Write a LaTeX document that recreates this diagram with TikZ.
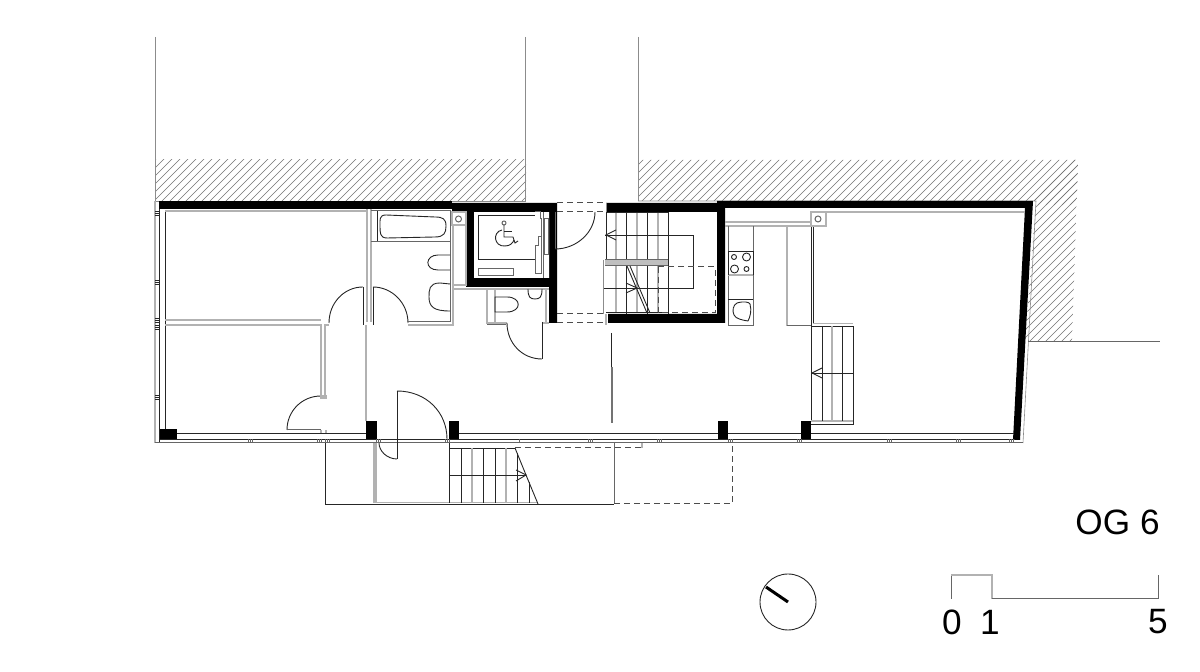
\documentclass[tikz,border=0pt]{standalone}
\usepackage{fontspec}
\setmainfont{Liberation Sans}
\begin{document}
\begin{tikzpicture}[x=0.5pt, y=-0.5pt, line join=miter,
  wall/.style = {fill=black, draw=none},
  dark/.style = {draw=black!85, line width=0.45pt},
  mid/.style = {draw=black!60, line width=0.5pt},
  pale/.style = {draw=black!30, line width=0.6pt},
  hair/.style = {draw=black!45, line width=0.3pt},
  cut/.style = {draw=black!70, line width=0.5pt, dash pattern=on 3pt off 2pt},
  hatchline/.style = {draw=black!55, line width=0.22pt},
  label/.style = {font=\fontsize{17.6}{18}\selectfont, inner sep=0pt}]
\useasboundingbox (0,0) rectangle (1200,672);

% neighbours and hatching
\begin{scope}
\clip (155,160) rectangle (526,201);
\foreach \h in {110,118,...,540} \draw[hatchline] (\h,205) -- (\h+50,155);
\end{scope}
\begin{scope}
\clip (638,160) -- (1078,160) -- (1072,342) -- (1025,342) -- (1036,201) -- (638,201) -- cycle;
\foreach \h in {590,598,...,1078} \draw[hatchline] (\h,205) -- (\h+50,155);
\foreach \h in {890,898,...,1078} \draw[hatchline] (\h,345) -- (\h+190,155);
\end{scope}
\draw[hair] (155,37) -- (155,201);
\draw[hair] (525.5,37) -- (525.5,201);
\draw[hair] (638,37) -- (638,201);
\draw[hair] (155,201) -- (525.5,201);
\draw[hair] (638,201) -- (1036,201) -- (1023,443);
\draw[mid] (1028,342) -- (1160,342);

% walls
\fill[wall] (159,201) rectangle (452,209);
\fill[wall] (452,203) -- (557,203) -- (557,323) -- (549,323) -- (549,287) -- (466,287) -- (466,212) -- (452,212) -- cycle;
\fill[white] (474,212) rectangle (549,278);
\fill[wall] (606,203) -- (717,203) -- (717,201) -- (1033,201) -- (1020,440) -- (1013,440) -- (1025,208) -- (725,208) -- (725,323) -- (608,323) -- (608,314) -- (717,314) -- (717,212) -- (606,212) -- cycle;
\fill[wall] (159,429) rectangle (177,439);
\fill[wall] (366,421) rectangle (377,439);
\fill[wall] (449,421) rectangle (459,439);
\fill[wall] (718,421) rectangle (728,439);
\fill[wall] (801,421) rectangle (811,439);

% facade
\draw[pale] (155,201) -- (155,443);
\draw[dark] (159,209) -- (159,443);
\draw[dark] (165,211) -- (165,429);
\draw[dark] (177,433) -- (366,433);
\draw[dark] (459,433) -- (718,433);
\draw[dark] (728,433) -- (801,433);
\draw[dark] (811,433) -- (1014,433);
\draw[dark] (159,439) -- (1015,439);
\draw[mid] (155,443) -- (1023,443);
\foreach \tx in {250,319,327,378,447,590,659,730,799,889,958,1011} {
  \draw[mid] (\tx-2,439) -- (\tx-2,443);
  \draw[mid] (\tx,439) -- (\tx,443);
  \draw[mid] (\tx+2,439) -- (\tx+2,443);
}
\draw[mid] (519,439) -- (519,443);
\foreach \ty in {213,282,320,327,397} {
  \draw[dark] (155,\ty-2) -- (159,\ty-2);
  \draw[dark] (155,\ty) -- (159,\ty);
  \draw[dark] (155,\ty+2) -- (159,\ty+2);
}

% rooms left
\draw[pale] (165,211) -- (367,211);
\draw[pale] (367,209) -- (367,322);
\draw[pale] (371,209) -- (371,322);
\draw[pale] (165,320) -- (321,320);
\draw[pale] (165,325) -- (321,325) -- (321,396);
\draw[pale] (329,325) -- (325,325) -- (325,396);
\draw[pale] (366,325) -- (366,421);
\draw[dark] (363,287) -- (363,325);
\draw[dark] (363,287) .. controls (344,287) and (329,303) .. (329,323);
\draw[dark] (321,396) .. controls (302,396) and (287,411) .. (287,430);
\draw[mid] (287,430) -- (321,430);
\draw[pale] (321,396) rectangle (326,398);
\draw[pale] (321,430) -- (321,433);
\draw[pale] (326,430) -- (326,433);

% bath
\draw[dark] (373,287) -- (373,325);
\draw[dark] (373,287) .. controls (392,287) and (408,303) .. (408,323);
\draw[mid] (408,322) -- (450,322) -- (450,211) -- (371,211);
\draw[pale] (408,325) -- (453,325) -- (453,225);
\draw[dark] (377,211) -- (377,242);
\draw[mid] (371,242) -- (450,242);
\draw[dark] (386,215) .. controls (379,215) and (380,220) .. (380,226) .. controls (380,233) and (380,238) .. (387,238) -- (435,237) .. controls (444,237) and (446,233) .. (446,226) .. controls (446,219) and (443,217) .. (435,217) -- cycle;
\draw[dark] (450,255) -- (438,255) .. controls (425,255) and (424,270) .. (438,270) -- (450,270);
\draw[dark] (450,284) -- (440,283) .. controls (429,283) and (429,290) .. (429,297) .. controls (429,307) and (434,311) .. (450,311);
\draw[pale] (452,212) rectangle (466,225);
\draw[mid] (458.5,219) circle (3);
\draw[pale] (466,225) -- (466,285) -- (453,285);
\draw[pale] (453,289) -- (549,289);

% accessible room
\draw[dark] (478,215) -- (535,215);
\draw[dark] (478,215) -- (478,259) -- (535,259);
\draw[mid] (478,269) rectangle (513,276);
\draw[mid] (535,212) -- (540,212) -- (540,219) -- (541,219) -- (541,237) -- (538,237) -- (538,246) -- (535,246) -- (535,274) -- (541,274) -- (541,237);
\draw[mid] (543,212) -- (543,278);
\draw[dark] (549,212) -- (549,278);
\draw[mid] (555,212) -- (555,249);
\draw[mid] (544,219) rectangle (548,255);
\draw[mid] (504,223) circle (2);
\draw[dark] (504,225) -- (504,237) -- (513,237) -- (515,243) -- (518,241);
\draw[dark] (504,231) -- (512,231);
\draw[dark] (502,230) .. controls (492,232) and (494,247) .. (505,246) .. controls (510,246) and (513,243) .. (514,240);

% small wc
\draw[pale] (487,289) -- (487,323) -- (507,323);
\draw[pale] (495,289) -- (495,323);
\draw[mid] (487,325) -- (506,325);
\draw[dark] (495,297) -- (507,297) .. controls (522,297) and (522,312) .. (507,312) -- (495,312) -- cycle;
\draw[dark] (528,289) .. controls (528,297) and (530,299) .. (535,299) .. controls (540,299) and (542,297) .. (542,289);
\draw[pale] (546,289) -- (546,322);
\draw[pale] (542,323) -- (549,323);
\draw[dark] (542,322) -- (542,359);
\draw[dark] (542,359) .. controls (522,359) and (507,343) .. (507,323);

% hall
\draw[dark] (555,249) .. controls (577,249) and (595,232) .. (595,212);
\foreach \ly in {203,212,314,323} \draw[cut] (557,\ly) -- (606,\ly);
\draw[hair] (606,203) -- (606,212);
\draw[pale] (606,314) -- (606,325);
\draw[dark] (611,333) -- (611,372);
\draw[draw=black!55, line width=0.9pt] (612,367) -- (612,423);

% main stair
\draw[dark] (606,212) -- (606,260);
\draw[hair] (603,260) -- (603,314);
\foreach \sx in {616,637,658} \draw[pale] (\sx,212) -- (\sx,312);
\foreach \sx in {626,647,668} \draw[dark] (\sx,212) -- (\sx,314);
\draw[dark] (606,212) -- (668,212);
\draw[dark] (605,235) -- (693,235) -- (693,288) -- (604,288);
\draw[dark] (606,312) -- (668,312);
\fill[black!25] (605,260) rectangle (668,266);
\draw[mid] (605,260) -- (668,260);
\draw[mid] (605,266) -- (668,266);
\draw[dark] (616,230) -- (606,235) -- (616,240);
\draw[dark] (626,283) -- (637,288) -- (626,293);
\draw[dark] (627,266) -- (647,313);
\draw[dark] (630,266) -- (650,313);
\draw[cut] (658,267) rectangle (715,313);

% kitchen
\draw[pale] (725,222) -- (811,222);
\draw[pale] (725,226) -- (811,226);
\draw[mid] (728,226) -- (728,326) -- (753,326) -- (753,226);
\draw[dark] (728,251) -- (753,251);
\draw[pale] (728,275) -- (753,275);
\draw[dark] (728,275) -- (728,251);
\draw[dark] (753,275) -- (753,251);
\draw[dark] (728,299) -- (753,299);
\draw[dark] (734,257) circle (2.5);
\draw[dark] (746.5,257) circle (4);
\draw[dark] (734.5,269) circle (4);
\draw[dark] (746.5,269) circle (2.5);
\draw[dark] (737,303) .. controls (744,301) and (749,302) .. (750,304) .. controls (752,311) and (750,317) .. (748,321) .. controls (742,320) and (736,319) .. (734,315) .. controls (732,311) and (733,305) .. (737,303);
\draw[pale] (787,226) -- (787,326);
\draw[mid] (787,326) -- (811,326);
\draw[dark] (811,226) -- (811,421);
\draw[dark] (813,226) -- (813,324);
\draw[pale] (826,212) -- (1025,212);
\draw[pale] (811,212) rectangle (826,226);
\draw[mid] (818,219) circle (3);

% second stair
\draw[pale] (813,323.5) -- (853,323.5);
\draw[dark] (811,326) -- (853,326) -- (853,424) -- (811,424);
\draw[pale] (811,421) -- (853,421);
\foreach \sx in {822,842} \draw[dark] (\sx,326) -- (\sx,421);
\draw[pale] (832,326) -- (832,421);
\draw[dark] (811,373) -- (853,373);
\draw[dark] (822,368) -- (812,373) -- (822,378);

% entrance door and balcony
\draw[dark] (397,391) -- (397,459);
\draw[dark] (397,391) .. controls (426,391) and (447,412) .. (447,439);
\draw[dark] (397,459) .. controls (387,459) and (379,451) .. (379,443);
\draw[dark] (325,443) -- (325,504) -- (614,504);
\draw[pale] (374,443) -- (374,503);
\draw[pale] (376,443) -- (376,502.5) -- (538,502.5);
\draw[mid] (614,443) -- (614,504);
\draw[cut] (614,504) -- (732,504) -- (732,443);
\draw[dark] (449,448) -- (515,448);
\draw[cut] (515,448) -- (642,448);
\draw[pale] (642,443) -- (642,448);
\foreach \sx in {461,483,495} \draw[dark] (\sx,448) -- (\sx,503);
\draw[dark] (449,443) -- (449,503);
\draw[dark] (517,453) -- (517,503);
\draw[dark] (529,482) -- (529,503);
\foreach \sx in {472,506} \draw[pale] (\sx,448) -- (\sx,503);
\draw[dark] (449,475) -- (526,475);
\draw[dark] (516,470) -- (526,475) -- (516,481);
\draw[dark] (515,448) -- (526,475) -- (538,504);

% orientation and scale
\draw[dark] (788,602) circle (28);
\draw[line width=1.5pt] (788,602) -- (766,587);
\draw[mid] (951,599) -- (951,575);
\draw[pale] (951,575) -- (992,575) -- (992,599);
\draw[mid] (992,599) -- (1158,599) -- (1158,575);
\node[label] (scalea) at (952,622) {0};
\node[label] (scaleb) at (990,622) {1};
\node[label] (scalec) at (1158,622) {5};
\node[label, anchor=east] (levelname) at (1160,522) {OG 6};
\end{tikzpicture}
\end{document}
